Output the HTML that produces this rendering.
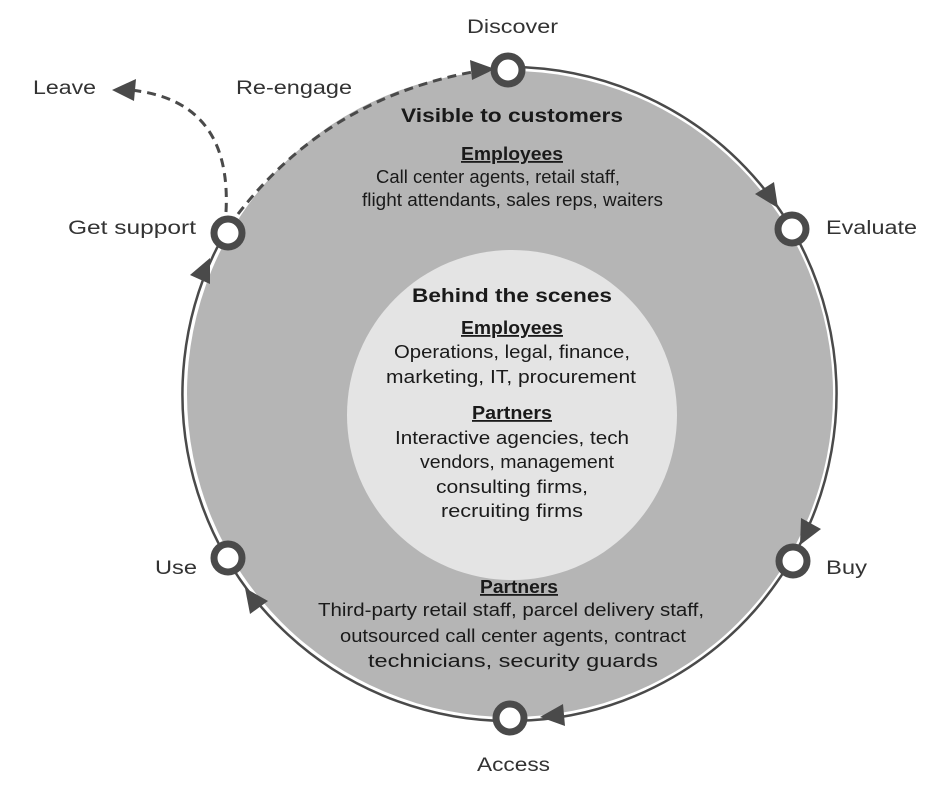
<!DOCTYPE html>
<html><head><meta charset="utf-8"><style>
html,body{margin:0;padding:0;background:#fff;}
svg{display:block;font-family:"Liberation Sans",sans-serif;}
</style></head><body>
<svg width="951" height="796" viewBox="0 0 951 796" xmlns="http://www.w3.org/2000/svg">
<circle cx="510" cy="394" r="323" fill="#b5b5b5"/>
<circle cx="512" cy="415" r="165" fill="#e4e4e4"/>
<path d="M510,67 A327,327 0 1 1 226,231" fill="none" stroke="#4a4a4a" stroke-width="2.5"/>
<g fill="#4a4a4a">
<polygon points="778,208 755,194 774,182"/>
<polygon points="800,545 801,518 821,529"/>
<polygon points="540,717 563,704 565,726"/>
<polygon points="245,588 268,601 250,614"/>
<polygon points="210,258 210,284 190,275"/>
</g>
<path d="M238,214 Q330,95 484,70" fill="none" stroke="#4a4a4a" stroke-width="3" stroke-dasharray="9,6"/>
<polygon points="495,69 470,60 472,80" fill="#4a4a4a"/>
<path d="M226,212 Q232,100 130,90" fill="none" stroke="#4a4a4a" stroke-width="3" stroke-dasharray="9,6"/>
<polygon points="112,90 136,79 134,101" fill="#4a4a4a"/>
<g fill="#fff" stroke="#4a4a4a" stroke-width="7">
<circle cx="508" cy="70" r="14"/>
<circle cx="792" cy="229" r="14"/>
<circle cx="793" cy="561" r="14"/>
<circle cx="510" cy="718" r="14"/>
<circle cx="228" cy="558" r="14"/>
<circle cx="228" cy="233" r="14"/>
</g>
<g fill="#333" font-size="19">
<text x="467" y="33" textLength="91" lengthAdjust="spacingAndGlyphs">Discover</text>
<text x="826" y="234" textLength="91" lengthAdjust="spacingAndGlyphs">Evaluate</text>
<text x="826" y="574" textLength="41" lengthAdjust="spacingAndGlyphs">Buy</text>
<text x="477" y="771" textLength="73" lengthAdjust="spacingAndGlyphs">Access</text>
<text x="155" y="574" textLength="42" lengthAdjust="spacingAndGlyphs">Use</text>
<text x="68" y="234" textLength="128" lengthAdjust="spacingAndGlyphs">Get support</text>
<text x="33" y="94" textLength="63" lengthAdjust="spacingAndGlyphs">Leave</text>
<text x="236" y="94" textLength="116" lengthAdjust="spacingAndGlyphs">Re-engage</text>
</g>
<g fill="#1a1a1a" font-size="18">
<text x="401" y="122" font-weight="bold" font-size="19" textLength="222" lengthAdjust="spacingAndGlyphs">Visible to customers</text>
<text x="461" y="160" font-weight="bold" text-decoration="underline" textLength="102" lengthAdjust="spacingAndGlyphs">Employees</text>
<text x="376" y="183" textLength="244" lengthAdjust="spacingAndGlyphs">Call center agents, retail staff,</text>
<text x="362" y="206" textLength="301" lengthAdjust="spacingAndGlyphs">flight attendants, sales reps, waiters</text>
<text x="412" y="302" font-weight="bold" font-size="19" textLength="200" lengthAdjust="spacingAndGlyphs">Behind the scenes</text>
<text x="461" y="334" font-weight="bold" text-decoration="underline" textLength="102" lengthAdjust="spacingAndGlyphs">Employees</text>
<text x="394" y="358" textLength="236" lengthAdjust="spacingAndGlyphs">Operations, legal, finance,</text>
<text x="386" y="383" textLength="250" lengthAdjust="spacingAndGlyphs">marketing, IT, procurement</text>
<text x="472" y="419" font-weight="bold" text-decoration="underline" textLength="80" lengthAdjust="spacingAndGlyphs">Partners</text>
<text x="395" y="444" textLength="234" lengthAdjust="spacingAndGlyphs">Interactive agencies, tech</text>
<text x="420" y="468" textLength="194" lengthAdjust="spacingAndGlyphs">vendors, management</text>
<text x="436" y="493" textLength="152" lengthAdjust="spacingAndGlyphs">consulting firms,</text>
<text x="441" y="517" textLength="142" lengthAdjust="spacingAndGlyphs">recruiting firms</text>
<text x="480" y="593" font-weight="bold" text-decoration="underline" textLength="78" lengthAdjust="spacingAndGlyphs">Partners</text>
<text x="318" y="616" textLength="386" lengthAdjust="spacingAndGlyphs">Third-party retail staff, parcel delivery staff,</text>
<text x="340" y="642" textLength="346" lengthAdjust="spacingAndGlyphs">outsourced call center agents, contract</text>
<text x="368" y="667" textLength="290" lengthAdjust="spacingAndGlyphs">technicians, security guards</text>
</g>
</svg>
</body></html>
